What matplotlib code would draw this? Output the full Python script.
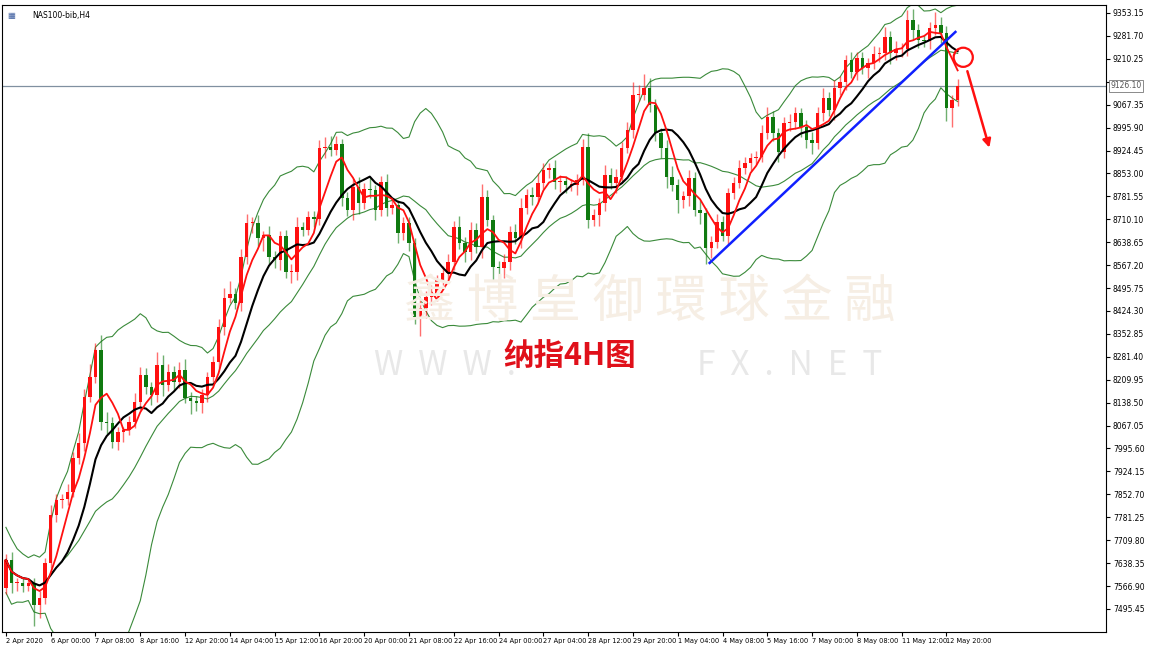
import numpy as np
import pandas as pd
import matplotlib
matplotlib.use('Agg')
import matplotlib.pyplot as plt

plt.rcParams['font.family'] = ['Noto Sans CJK SC', 'DejaVu Sans']

# 4H closes, NAS100, 2 Apr - 12 May 2020
closes = [7648, 7576, 7576, 7567, 7576, 7508, 7530, 7639, 7788, 7835,
          7838, 7860, 7966, 8013, 8156, 8220, 8303, 8078, 8075, 8016,
          8047, 8053, 8078, 8140, 8225, 8187, 8162, 8256, 8194, 8234,
          8203, 8240, 8153, 8144, 8137, 8162, 8218, 8265, 8374, 8465,
          8477, 8449, 8592, 8698, 8698, 8651, 8660, 8592, 8583, 8658,
          8546, 8546, 8686, 8677, 8717, 8711, 8932, 8935, 8926, 8945,
          8776, 8739, 8811, 8761, 8804, 8801, 8739, 8826, 8745, 8755,
          8667, 8698, 8636, 8405, 8433, 8468, 8474, 8521, 8543, 8577,
          8686, 8636, 8608, 8677, 8624, 8780, 8708, 8561, 8558, 8577,
          8670, 8652, 8745, 8786, 8780, 8823, 8864, 8870, 8826, 8829,
          8817, 8817, 8832, 8935, 8708, 8723, 8761, 8849, 8823, 8842,
          8932, 8989, 9098, 9098, 9119, 9066, 8979, 8932, 8842, 8817,
          8770, 8783, 8839, 8739, 8730, 8620, 8639, 8701, 8658, 8792,
          8823, 8870, 8885, 8901, 8904, 8979, 9029, 8979, 8920, 9010,
          9013, 9041, 8998, 8957, 8948, 9041, 9088, 9051, 9119, 9138,
          9206, 9169, 9213, 9182, 9197, 9225, 9228, 9278, 9228, 9240,
          9240, 9331, 9300, 9269, 9266, 9306, 9315, 9291, 9057, 9082,
          9126]
first_open = 7561
upper_wick = [20, 25, 15, 20, 10, 15, 20, 15, 30, 20,
              15, 25, 20, 30, 25, 40, 20, 45, 30, 20,
              15, 10, 20, 30, 25, 20, 15, 40, 30, 25,
              20, 25, 35, 20, 15, 20, 15, 20, 25, 30,
              40, 20, 25, 30, 20, 25, 15, 30, 20, 15,
              20, 25, 30, 15, 20, 20, 25, 30, 35, 25,
              15, 20, 25, 30, 20, 35, 15, 20, 25, 20,
              15, 20, 20, 15, 25, 20, 30, 15, 20, 25,
              20, 35, 20, 25, 20, 40, 20, 15, 20, 25,
              20, 25, 30, 20, 25, 30, 20, 15, 25, 20,
              15, 20, 20, 25, 45, 20, 15, 30, 20, 25,
              20, 25, 40, 30, 45, 30, 20, 15, 25, 35,
              20, 15, 25, 20, 30, 15, 20, 25, 20, 15,
              20, 25, 20, 15, 20, 25, 30, 20, 15, 20,
              25, 20, 15, 20, 25, 20, 30, 20, 25, 20,
              15, 25, 20, 20, 15, 25, 20, 30, 20, 25,
              20, 30, 35, 20, 15, 20, 40, 25, 20, 15,
              20]
lower_wick = [20, 30, 25, 20, 15, 65, 40, 20, 15, 20,
              25, 20, 15, 20, 25, 15, 20, 25, 35, 20,
              25, 30, 15, 20, 25, 20, 30, 20, 35, 20,
              25, 20, 15, 40, 25, 30, 20, 15, 20, 25,
              15, 20, 25, 20, 30, 25, 40, 20, 25, 30,
              20, 35, 25, 20, 15, 25, 20, 30, 20, 15,
              25, 20, 30, 35, 20, 25, 30, 20, 25, 20,
              30, 20, 25, 20, 60, 30, 25, 20, 15, 20,
              25, 20, 30, 25, 20, 35, 20, 40, 45, 30,
              25, 20, 30, 20, 25, 15, 20, 25, 20, 30,
              25, 20, 30, 15, 25, 20, 35, 25, 20, 30,
              20, 15, 25, 20, 15, 20, 25, 30, 35, 20,
              40, 25, 30, 20, 35, 50, 30, 20, 15, 25,
              20, 15, 20, 25, 20, 15, 20, 25, 30, 20,
              25, 20, 30, 25, 35, 20, 25, 20, 30, 20,
              25, 20, 25, 20, 30, 20, 25, 20, 35, 20,
              25, 20, 30, 25, 20, 25, 20, 30, 40, 60,
              20]

tick_labels = ['2 Apr 2020', '6 Apr 00:00', '7 Apr 08:00', '8 Apr 16:00', '12 Apr 20:00',
               '14 Apr 04:00', '15 Apr 12:00', '16 Apr 20:00', '20 Apr 00:00', '21 Apr 08:00',
               '22 Apr 16:00', '24 Apr 00:00', '27 Apr 04:00', '28 Apr 12:00', '29 Apr 20:00',
               '1 May 04:00', '4 May 08:00', '5 May 16:00', '7 May 00:00', '8 May 08:00',
               '11 May 12:00', '12 May 20:00']
price_ticks = [7495.45 + 71.45 * k for k in range(27)]
last_price = 9126.10
trend_x = [125.7, 169.6]
trend_y = [8574, 9294]
circle_xy = (171.0, 9215)
arrow_from = (171.6, 9180)
arrow_to = (175.8, 8925)

df = pd.DataFrame({'close': closes})
df['open'] = df['close'].shift(1).fillna(first_open)
df['high'] = df[['open', 'close']].max(axis=1) + np.array(upper_wick)
df['low'] = df[['open', 'close']].min(axis=1) - np.array(lower_wick)
df['ma_fast'] = df['close'].rolling(5, min_periods=1).mean()
df['ma_slow'] = df['close'].rolling(10, min_periods=1).mean()
mid = df['close'].rolling(20, min_periods=1).mean()
sd = df['close'].rolling(20, min_periods=2).std().bfill()
df['bb_mid'] = mid
df['bb_up'] = mid + 2 * sd
df['bb_dn'] = mid - 2 * sd
idx = np.arange(len(df))

W, H = 1170, 650
ymin, ymax = 7423.6, 9378
fig = plt.figure(figsize=(11.7, 6.5), dpi=100)
ax = fig.add_axes([2 / W, 18 / H, 1104 / W, 627 / H])
ax.set_xlim(-0.7, 196.5)
ax.set_ylim(ymin, ymax)

# watermark
fig.text(650 / W, 1 - 302 / H, '鑫 博 皇 御 環 球 金 融', fontsize=37, color='#f6eee4',
         ha='center', va='center', zorder=0)
fig.text(445 / W, 1 - 366 / H, 'W  W  W  .', fontsize=24, color='#e8e8e8',
         ha='center', va='center', zorder=0)
fig.text(790 / W, 1 - 366 / H, 'F  X  .  N  E  T', fontsize=24, color='#e8e8e8',
         ha='center', va='center', zorder=0)

green = '#107a10'
red = '#ff1010'
for col in ['bb_up', 'bb_mid', 'bb_dn']:
    ax.plot(idx, df[col], color='#3a8a3a', lw=0.8, zorder=2)

up = df['close'] >= df['open']
colors = np.where(up, red, green)
ax.vlines(idx, df['low'], df['high'], colors=colors, lw=1.0, alpha=0.6, zorder=3)
body_bottom = df[['open', 'close']].min(axis=1)
body_h = (df['close'] - df['open']).abs().clip(lower=3)
ax.bar(idx, body_h, bottom=body_bottom, width=0.62, color=colors, zorder=4)

ax.plot(idx, df['ma_slow'], color='black', lw=1.5, zorder=5)
ax.plot(idx, df['ma_fast'], color=red, lw=1.3, zorder=6)

ax.axhline(last_price, color='#8090a0', lw=0.9, zorder=1)
ax.plot(trend_x, trend_y, color='#1020ff', lw=1.8, zorder=7)
ax.scatter([circle_xy[0]], [circle_xy[1]], s=190, facecolors='none', edgecolors=red,
           linewidths=1.6, zorder=8)
ax.annotate('', xy=arrow_to, xytext=arrow_from,
            arrowprops=dict(arrowstyle='-|>', color=red, lw=1.8, mutation_scale=12), zorder=8)

# right price scale, the tick behind the price box stays hidden
ax.yaxis.tick_right()
ax.set_yticks(price_ticks)
ax.set_yticklabels(['' if abs(v - last_price) < 20 else f'{v:.2f}' for v in price_ticks],
                   fontsize=5.5, family='DejaVu Sans')
ax.tick_params(axis='y', length=3, pad=2)
ax.set_xticks(np.arange(len(tick_labels)) * 8)
ax.set_xticklabels(tick_labels, fontsize=4.8, ha='left',
                   family=['Liberation Sans Narrow', 'DejaVu Sans'])
ax.tick_params(axis='x', length=3, pad=1)
for s in ax.spines.values():
    s.set_linewidth(0.8)

ax.text(1.004, (last_price - ymin) / (ymax - ymin), f'{last_price:.2f}',
        transform=ax.transAxes, fontsize=5.5, va='center', ha='left', color='#555555',
        family='DejaVu Sans',
        bbox=dict(boxstyle='square,pad=0.2', fc='white', ec='#777777', lw=0.6), zorder=9)

ax.text(0.027, 0.99, 'NAS100-bib,H4', transform=ax.transAxes, fontsize=5.5, va='top',
        family='DejaVu Sans')
ax.text(0.005, 0.99, '▦', transform=ax.transAxes, fontsize=6, va='top', color='#4060a0',
        family='DejaVu Sans')

fig.text(570 / W, 1 - 356 / H, '纳指4H图', fontsize=22, color='#e0101a', fontweight='bold',
         ha='center', va='center', zorder=10)

fig.savefig('out.png', dpi=100)
